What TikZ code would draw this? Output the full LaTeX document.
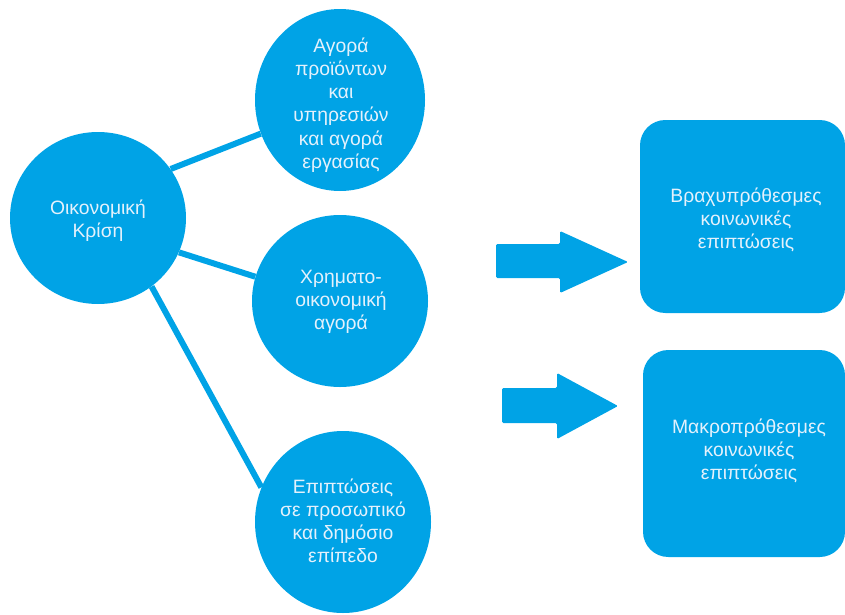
\documentclass[tikz,border=0pt]{standalone}
\usepackage{fontspec}
\setmainfont{Liberation Sans}
\usetikzlibrary{shapes.geometric}
\definecolor{bubblue}{RGB}{0,163,230}
\definecolor{softwhite}{RGB}{228,241,252}
\begin{document}
\begin{tikzpicture}[x=0.75pt,y=-0.75pt,
  bubble/.style={ellipse, fill=bubblue, draw=none, inner sep=0pt},
  panel/.style={rectangle, rounded corners=19pt, fill=bubblue, draw=none, inner sep=0pt},
  caption/.style={text=softwhite, align=center, inner sep=0pt,
    font=\fontsize{14.5}{17.4}\selectfont},
  link/.style={draw=bubblue, line width=4.5pt},
  bigarrow/.style={fill=bubblue, draw=none, rounded corners=1pt}]
\useasboundingbox (0,0) rectangle (845,614);

% the crisis bubble and its three branches
\node[bubble, minimum width=132pt, minimum height=129pt] (crisis) at (98,218) {};
\node[bubble, minimum width=127.5pt, minimum height=136.5pt] (goods) at (340,100) {};
\node[bubble, minimum width=132pt, minimum height=129pt] (finance) at (340,301) {};
\node[bubble, minimum width=132pt, minimum height=136.5pt] (impact) at (343,522) {};

\draw[link] (crisis.34) -- (goods.203);
\draw[link] (crisis.-23) -- (finance.164);
\draw[link] (crisis.-52) -- (impact.157);

\node[caption] (t-crisis) at (98,221) {Οικονομική\\Κρίση};
\node[caption] (t-goods) at (341,105) {Αγορά\\προϊόντων\\και\\υπηρεσιών\\και αγορά\\εργασίας};
\node[caption] (t-finance) at (341,302) {Χρηματο-\\οικονομική\\αγορά};
\node[caption] (t-impact) at (343,521) {Επιπτώσεις\\σε προσωπικό\\και δημόσιο\\επίπεδο};

% block arrows
\fill[bigarrow] (496,244) -- (560,244) -- (560,231) -- (628,262) -- (560,293)
  -- (560,278) -- (496,278) -- cycle;
\fill[bigarrow] (502,388) -- (557,388) -- (557,373) -- (618,406) -- (557,439)
  -- (557,423) -- (502,423) -- cycle;

% outcome panels
\node[panel, minimum width=153.75pt, minimum height=144.75pt] (short) at (742.5,216.5) {};
\node[panel, minimum width=151.5pt, minimum height=155.25pt] (long) at (744,453.5) {};
\node[caption] (t-short) at (746,220) {Βραχυπρόθεσμες\\κοινωνικές\\επιπτώσεις};
\node[caption] (t-long) at (749,451) {Μακροπρόθεσμες\\κοινωνικές\\επιπτώσεις};
\end{tikzpicture}
\end{document}
